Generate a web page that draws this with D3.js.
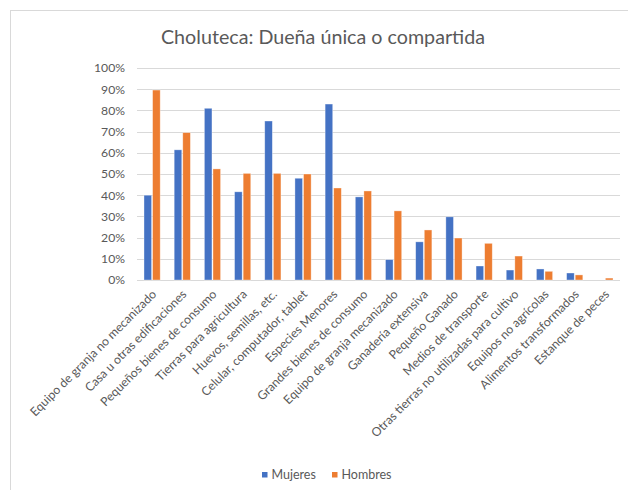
<!DOCTYPE html>
<html>
  <head>
    <meta charset="utf-8">
    <script src="https://d3js.org/d3.v7.min.js"></script>
    <style>
      body { margin: 0; background: #fff; }
      text { font-family: Lato, "Open Sans", sans-serif; fill: #595959; }
    </style>
  </head>
  <body>
    <div id="chart"></div>
    <script>
      var categorias = ["Equipo de granja no mecanizado", "Casa u otras edificaciones",
        "Pequeños bienes de consumo", "Tierras para agricultura", "Huevos, semillas, etc.",
        "Celular, computador, tablet", "Especies Menores", "Grandes bienes de consumo",
        "Equipo de granja mecanizado", "Ganadería extensiva", "Pequeño Ganado",
        "Medios de transporte", "Otras tierras no utilizadas para cultivo",
        "Equipos no agrícolas", "Alimentos transformados", "Estanque de peces"];
      var mujeres = [40, 61.4, 81, 41.6, 75, 48, 83, 39.2, 9.6, 18, 29.8, 6.6, 4.7, 5.2, 3.3, 0];
      var hombres = [89.6, 69.5, 52.4, 50.3, 50.3, 50, 43.4, 42, 32.6, 23.6, 19.8, 17.3, 11.3, 4.1, 2.4, 0.9];
      var series = ["Mujeres", "Hombres"];
      var colores = ["#4472C4", "#ED7D31"];
      var ticks = [0, 10, 20, 30, 40, 50, 60, 70, 80, 90, 100];

      var width = 628, height = 490;
      var svg = d3.select("#chart").append("svg")
        .attr("width", width)
        .attr("height", height);

      // marco del gráfico
      svg.append("rect")
        .attr("x", 10.5).attr("y", 10.5)
        .attr("width", 640).attr("height", 500)
        .attr("fill", "none").attr("stroke", "#D9D9D9");

      svg.append("text")
        .attr("x", 323).attr("y", 44)
        .attr("text-anchor", "middle")
        .style("font-size", "19.7px")
        .text("Choluteca: Dueña única o compartida");

      var x = d3.scaleBand().domain(categorias).range([137, 620]);
      var y = d3.scaleLinear().domain([0, 100]).range([280, 68]);
      var barW = 7.6;

      // cuadrícula
      svg.append("g").selectAll("line")
        .data(ticks).enter().append("line")
        .attr("x1", 137).attr("x2", 620)
        .attr("y1", function(d) { return Math.round(y(d)) + 0.5; })
        .attr("y2", function(d) { return Math.round(y(d)) + 0.5; })
        .attr("stroke", "#D9D9D9").attr("stroke-width", 1);

      var yAxis = d3.axisLeft(y).tickValues(ticks)
        .tickFormat(function(d) { return d + "%"; })
        .tickSize(0).tickPadding(0);
      var gy = svg.append("g")
        .attr("transform", "translate(125,0)")
        .call(yAxis);
      gy.select(".domain").remove();
      gy.selectAll("text").style("font-size", "12.2px").style("fill", "#595959");

      var datos = categorias.map(function(c, i) {
        return { cat: c, vals: [mujeres[i], hombres[i]] };
      });

      var grupos = svg.append("g").selectAll("g")
        .data(datos).enter().append("g")
        .attr("transform", function(d) { return "translate(" + (x(d.cat) + x.bandwidth() / 2) + ",0)"; });

      grupos.selectAll("rect")
        .data(function(d) { return d.vals; })
        .enter().append("rect")
        .attr("x", function(d, i) { return i == 0 ? -barW - 0.5 : 0.5; })
        .attr("width", barW)
        .attr("y", function(d) { return y(d); })
        .attr("height", function(d) { return y(0) - y(d); })
        .attr("fill", function(d, i) { return colores[i]; })
        .attr("stroke", "#fff").attr("stroke-opacity", 0.5).attr("stroke-width", 0.7);

      // etiquetas rotadas
      svg.append("g").selectAll("text")
        .data(categorias).enter().append("text")
        .attr("text-anchor", "end")
        .attr("transform", function(d) {
          return "translate(" + (x(d) + x.bandwidth() / 2 + 2) + ",292) rotate(-45)";
        })
        .attr("dy", "0.35em")
        .style("font-size", "12.2px")
        .text(function(d) { return d; });

      // leyenda
      var leyenda = svg.append("g").selectAll("g")
        .data(series).enter().append("g")
        .attr("transform", function(d, i) { return "translate(" + (262 + i * 70) + ",472)"; });
      leyenda.append("rect")
        .attr("width", 5.5).attr("height", 5.5)
        .attr("fill", function(d, i) { return colores[i]; });
      leyenda.append("text")
        .attr("x", 9.5).attr("y", 3)
        .attr("dy", "0.35em")
        .style("font-size", "12.5px")
        .text(function(d) { return d; });
    </script>
  </body>
</html>
